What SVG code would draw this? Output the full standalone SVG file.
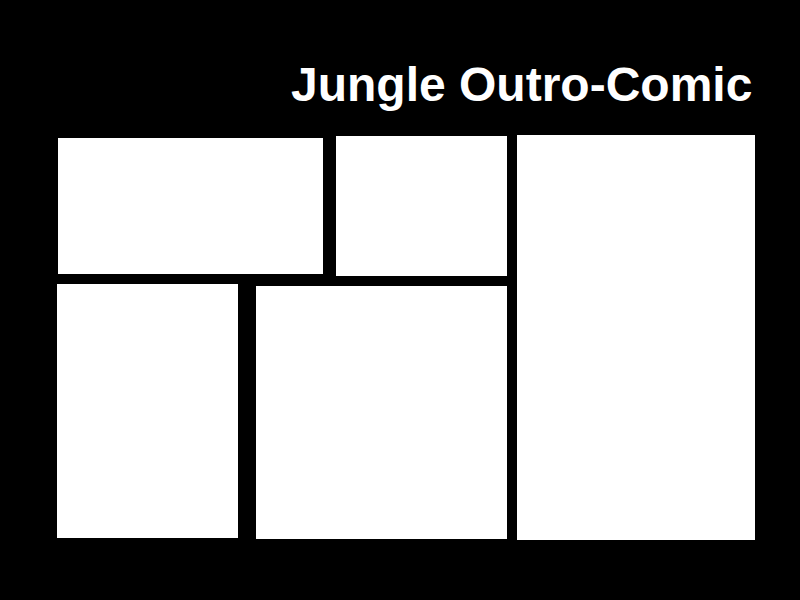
<svg xmlns="http://www.w3.org/2000/svg" width="800" height="600" viewBox="0 0 800 600">
<style>
.panel{fill:#fff}
.title{font-family:"Liberation Sans",Arial,sans-serif;font-weight:bold;font-size:48px;fill:#fff}
</style>
<rect width="800" height="600" fill="#000"/>
<text class="title" x="291" y="101">Jungle Outro-Comic</text>
<g id="panel1"><rect class="panel" x="58" y="138" width="265" height="136"/></g>
<g id="panel2"><rect class="panel" x="336" y="136" width="171" height="140"/></g>
<g id="panel3"><rect class="panel" x="517" y="135" width="238" height="405"/></g>
<g id="panel4"><rect class="panel" x="57" y="284" width="181" height="254"/></g>
<g id="panel5"><rect class="panel" x="256" y="286" width="251" height="253"/></g>
<g id="connectors"></g>
</svg>
